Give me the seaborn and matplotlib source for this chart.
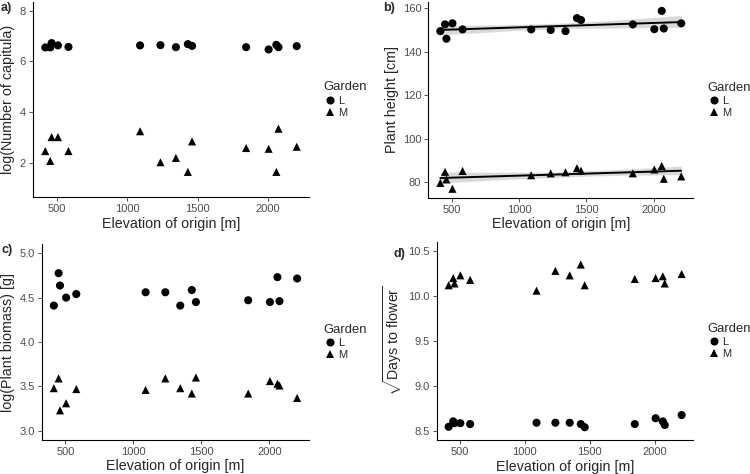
import numpy as np
import pandas as pd
import matplotlib
matplotlib.use("Agg")
import matplotlib.pyplot as plt
import matplotlib.ticker as mticker
import seaborn as sns

# ---------------- data ----------------
elevation = [415, 450, 460, 505, 580, 1090, 1235, 1345, 1430, 1460, 1845, 2005, 2060, 2075, 2205]

capitula_L = [6.55, 6.55, 6.72, 6.63, 6.57, 6.63, 6.64, 6.56, 6.68, 6.61, 6.56, 6.47, 6.65, 6.56, 6.60]
capitula_M = [2.47, 2.08, 3.02, 3.02, 2.47, 3.25, 2.03, 2.20, 1.65, 2.85, 2.59, 2.56, 1.65, 3.35, 2.64]

height_L = [149.5, 152.6, 146.0, 153.1, 150.3, 150.3, 150.0, 149.5, 155.5, 154.6, 152.6, 150.4, 158.8, 150.7, 153.1]
height_M = [79.7, 84.8, 81.3, 77.0, 85.2, 83.2, 84.1, 84.6, 86.5, 85.3, 84.1, 85.9, 87.5, 81.6, 82.7]

biomass_L = [4.41, 4.775, 4.636, 4.50, 4.54, 4.56, 4.56, 4.41, 4.585, 4.45, 4.47, 4.45, 4.73, 4.46, 4.715]
biomass_M = [3.48, 3.59, 3.23, 3.31, 3.47, 3.46, 3.59, 3.48, 3.42, 3.60, 3.42, 3.56, 3.53, 3.51, 3.37]

flower_L = [8.55, 8.61, 8.59, 8.59, 8.58, 8.595, 8.595, 8.595, 8.58, 8.545, 8.58, 8.645, 8.61, 8.57, 8.68]
flower_M = [10.12, 10.20, 10.14, 10.23, 10.18, 10.06, 10.28, 10.23, 10.35, 10.12, 10.19, 10.20, 10.22, 10.14, 10.245]

gardens = ["L", "M"]
x_ticks = [500, 1000, 1500, 2000]


def long_df(vals_L, vals_M):
    return pd.DataFrame({
        "Elevation": elevation + elevation,
        "Garden": ["L"] * len(elevation) + ["M"] * len(elevation),
        "value": vals_L + vals_M,
    })


# ---------------- style ----------------
sns.set_theme(style="ticks")
plt.rcParams["font.family"] = ["Liberation Sans", "DejaVu Sans"]
plt.rcParams["mathtext.fontset"] = "custom"
plt.rcParams["mathtext.rm"] = "Liberation Sans"
plt.rcParams["mathtext.it"] = "Liberation Sans:italic"
plt.rcParams["mathtext.bf"] = "Liberation Sans:bold"

W, H = 750, 474
fig = plt.figure(figsize=(W / 100, H / 100), dpi=100)


def add_ax(l, r, t, b):
    return fig.add_axes([l / W, 1 - b / H, (r - l) / W, (b - t) / H])


panels = [
    dict(box=(32.7, 309.3, 1.7, 197.3), L=capitula_L, M=capitula_M,
         ylabel="log(Number of capitula)", ylim=(0.65, 8.35), yticks=[2, 4, 6, 8], fmt="%d",
         tag="a)", tagpos=(1, 8), reg=False),
    dict(box=(428.3, 693.3, 2.0, 197.7), L=height_L, M=height_M,
         ylabel="Plant height [cm]", ylim=(72.9, 162.9), yticks=[80, 100, 120, 140, 160], fmt="%d",
         tag="b)", tagpos=(383, 8), reg=True),
    dict(box=(41.7, 309.3, 244.3, 439.7), L=biomass_L, M=biomass_M,
         ylabel="log(Plant biomass) [g]", ylim=(2.9, 5.1), yticks=[3.0, 3.5, 4.0, 4.5, 5.0], fmt="%.1f",
         tag="c)", tagpos=(1, 250), reg=False),
    dict(box=(437.0, 693.3, 242.0, 440.3), L=flower_L, M=flower_M,
         ylabel=r"$\sqrt{\mathrm{Days\ to\ flower}}$", ylim=(8.4, 10.6),
         yticks=[8.5, 9.0, 9.5, 10.0, 10.5], fmt="%.1f",
         tag="d)", tagpos=(393, 254), reg=False),
]

for p in panels:
    ax = add_ax(*p["box"])
    df = long_df(p["L"], p["M"])
    if p["reg"]:
        for g in gardens:
            sub = df[df["Garden"] == g]
            sns.regplot(data=sub, x="Elevation", y="value", scatter=False, ax=ax,
                        color="black", seed=1, ci=95,
                        line_kws={"lw": 1.4, "zorder": 3})
    sns.scatterplot(data=df, x="Elevation", y="value", style="Garden",
                    markers={"L": "o", "M": "^"}, color="black", s=34,
                    linewidth=0, ax=ax, zorder=4)
    ax.set_xlim(325.5, 2294.5)
    ax.set_ylim(*p["ylim"])
    ax.set_xticks(x_ticks)
    ax.set_yticks(p["yticks"])
    ax.yaxis.set_major_formatter(mticker.FormatStrFormatter(p["fmt"]))
    ax.set_xlabel("Elevation of origin [m]", fontsize=10.3, labelpad=2)
    ax.set_ylabel(p["ylabel"], fontsize=10.3, labelpad=3)
    ax.tick_params(axis="both", labelsize=8, labelcolor="#4D4D4D", color="#333333",
                   length=3, width=0.6, pad=2)
    for s in ["top", "right"]:
        ax.spines[s].set_visible(False)
    for s in ["left", "bottom"]:
        ax.spines[s].set_color("black")
        ax.spines[s].set_linewidth(0.8)
    ax.grid(False)
    l, r, t, b = p["box"]
    ax.legend(title="Garden", loc="center left",
              bbox_to_anchor=(1 + 14 / (r - l), 0.5),
              frameon=False, fontsize=8, title_fontsize=9.4, alignment="left",
              handletextpad=0.1, borderaxespad=0, borderpad=0, labelspacing=0.2,
              handlelength=1.2)
    fig.text(p["tagpos"][0] / W, 1 - p["tagpos"][1] / H, p["tag"], fontsize=9,
             fontweight="bold", ha="left", va="center")

fig.savefig("out.png", dpi=100, facecolor="white")
